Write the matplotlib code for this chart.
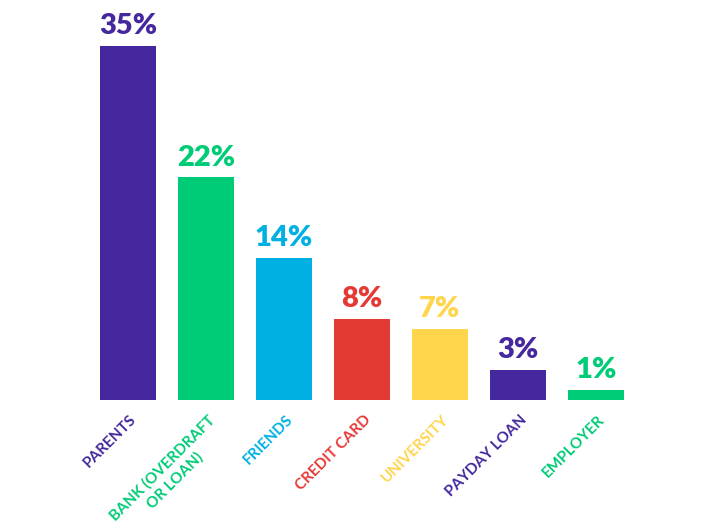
import matplotlib.pyplot as plt

categories = ["PARENTS", "BANK (OVERDRAFT\nOR LOAN)", "FRIENDS", "CREDIT CARD",
              "UNIVERSITY", "PAYDAY LOAN", "EMPLOYER"]
values = [35, 22, 14, 8, 7, 3, 1]
colors = ["#45289e", "#00cb76", "#00b0e3", "#e53935", "#ffd54d", "#45289e", "#00cb76"]

fig = plt.figure(figsize=(7.13, 5.29), dpi=100)
ax = fig.add_axes([89 / 713, 129 / 529, 546 / 713, 354 / 529])

x = range(len(values))
ax.bar(x, values, width=0.72, color=colors)
ax.set_xlim(-0.5, len(values) - 0.5)
ax.set_ylim(0, 35)

for i, v in enumerate(values):
    ax.annotate(f"{v}%", (i, v), xytext=(0, 5), textcoords="offset points",
                ha="center", va="bottom", fontsize=21, fontweight="heavy",
                color=colors[i], family="Lato", annotation_clip=False)
    ax.annotate(categories[i], (i, 0), xytext=(1, -9), textcoords="offset points",
                ha="right", va="top", rotation=45, rotation_mode="anchor",
                multialignment="center", fontsize=11, fontweight="bold",
                linespacing=1.3, color=colors[i], family="Lato",
                annotation_clip=False)

ax.axis("off")
fig.savefig("out.png", dpi=100)
